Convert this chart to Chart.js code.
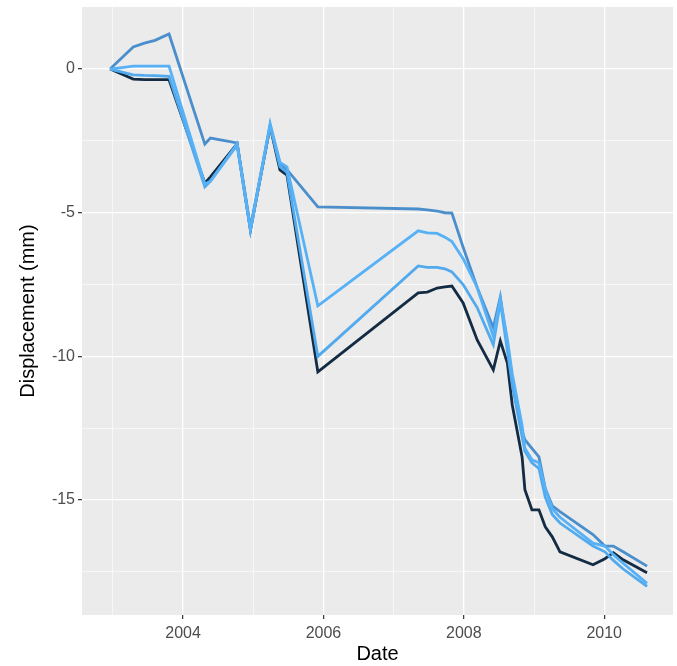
<!DOCTYPE html>
<html>
<head>
<meta charset="utf-8">
<script src="https://cdn.jsdelivr.net/npm/chart.js@4.4.1/dist/chart.umd.min.js"></script>
<style>
  html, body { margin: 0; padding: 0; background: #ffffff; }
  #wrap { width: 677px; height: 666px; }
</style>
</head>
<body>
<div id="wrap"><canvas id="grafico" width="677" height="666"></canvas></div>
<script>
// acquisition dates (decimal years), shared by all series
const datas = [2002.96, 2003.29, 2003.45, 2003.6, 2003.8, 2004.31, 2004.39, 2004.77, 2004.96, 2005.24,
  2005.38, 2005.48, 2005.92, 2007.35, 2007.48, 2007.62, 2007.73, 2007.83, 2007.99, 2008.19,
  2008.42, 2008.52, 2008.62, 2008.69, 2008.83, 2008.87, 2008.97, 2009.07, 2009.16, 2009.26,
  2009.37, 2009.84, 2010.01, 2010.13, 2010.27, 2010.61];

// displacement (mm)
const serieEscura = [0, -0.35, -0.37, -0.37, -0.37, -3.97, -3.75, -2.6, -5.6, -2.0,
  -3.51, -3.69, -10.54, -7.79, -7.76, -7.62, -7.58, -7.55, -8.14, -9.43,
  -10.47, -9.46, -10.23, -11.69, -13.5, -14.64, -15.34, -15.34, -15.93, -16.28,
  -16.8, -17.25, -17.04, -16.83, -17.08, -17.53];
const serieMedia = [0, 0.77, 0.9, 1.0, 1.22, -2.61, -2.4, -2.57, -5.5, -2.0,
  -3.27, -3.5, -4.8, -4.87, -4.9, -4.94, -5.0, -5.01, -6.2, -7.6,
  -9.0, -7.93, -9.6, -10.8, -12.6, -12.9, -13.2, -13.5, -14.6, -15.2,
  -15.4, -16.2, -16.6, -16.6, -16.8, -17.3];
const serieClara1 = [0, 0.1, 0.1, 0.1, 0.1, -4.0, -3.9, -2.6, -5.6, -1.9,
  -3.25, -3.4, -8.24, -5.63, -5.7, -5.72, -5.85, -6.0, -6.6, -7.6,
  -9.3, -8.0, -9.4, -10.6, -12.4, -13.2, -13.6, -13.7, -14.6, -15.3,
  -15.6, -16.5, -16.6, -16.9, -17.2, -17.9];
const serieClara2 = [0, -0.2, -0.22, -0.23, -0.25, -4.1, -3.9, -2.65, -5.6, -1.95,
  -3.4, -3.6, -10.0, -6.85, -6.9, -6.9, -6.95, -7.06, -7.5, -8.3,
  -9.6, -8.1, -9.8, -11.0, -12.8, -13.3, -13.7, -13.9, -14.9, -15.5,
  -15.8, -16.6, -16.8, -17.1, -17.4, -18.0];

const anosX = [2004, 2006, 2008, 2010];
const valoresY = [0, -5, -10, -15];

const pontos = serie => datas.map((d, i) => ({ x: d, y: serie[i] }));

const fundoPainel = {
  id: 'fundoPainel',
  beforeDraw(chart) {
    const { ctx, chartArea: a } = chart;
    ctx.save();
    ctx.fillStyle = '#EBEBEB';
    ctx.fillRect(a.left, a.top, a.right - a.left, a.bottom - a.top);
    ctx.restore();
  }
};

const fonte = "'Liberation Sans', Arial, sans-serif";

new Chart(document.getElementById('grafico').getContext('2d'), {
  type: 'line',
  data: {
    datasets: [
      { data: pontos(serieEscura), borderColor: '#132B43', order: 4 },
      { data: pontos(serieMedia), borderColor: '#4A8FCC', order: 3 },
      { data: pontos(serieClara2), borderColor: '#52AAEE', order: 2 },
      { data: pontos(serieClara1), borderColor: '#56B1F7', order: 1 }
    ]
  },
  options: {
    responsive: false,
    animation: false,
    layout: { autoPadding: false, padding: { top: 7, right: 4, left: 0, bottom: 0 } },
    datasets: { line: { borderWidth: 2.8, pointRadius: 0, tension: 0, fill: false } },
    plugins: { legend: { display: false }, tooltip: { enabled: false } },
    scales: {
      x: {
        type: 'linear',
        min: 2002.56,
        max: 2010.98,
        afterFit: s => { s.height = 51; s.paddingLeft = 0; s.paddingRight = 0; },
        border: { display: false },
        grid: {
          color: '#FFFFFF',
          lineWidth: c => anosX.includes(c.tick.value) ? 1.3 : 0.6,
          tickColor: c => anosX.includes(c.tick.value) ? '#333333' : 'rgba(0,0,0,0)',
          tickLength: 4,
          tickWidth: 1.2
        },
        ticks: {
          stepSize: 1,
          includeBounds: false,
          autoSkip: false,
          maxRotation: 0,
          padding: 5,
          color: '#4D4D4D',
          font: { family: fonte, size: 16 },
          callback: v => anosX.includes(v) ? String(v) : ''
        },
        title: {
          display: true,
          text: 'Date',
          color: '#000000',
          font: { family: fonte, size: 20 },
          padding: { top: 0, bottom: 0 }
        }
      },
      y: {
        min: -19.0,
        max: 2.16,
        afterFit: s => { s.width = 82; s.paddingTop = 0; s.paddingBottom = 0; },
        border: { display: false },
        grid: {
          color: '#FFFFFF',
          lineWidth: c => valoresY.includes(c.tick.value) ? 1.3 : 0.6,
          tickColor: c => valoresY.includes(c.tick.value) ? '#333333' : 'rgba(0,0,0,0)',
          tickLength: 4,
          tickWidth: 1.2
        },
        ticks: {
          stepSize: 2.5,
          includeBounds: false,
          autoSkip: false,
          padding: 3,
          color: '#4D4D4D',
          font: { family: fonte, size: 16 },
          callback: v => valoresY.includes(v) ? String(v) : ''
        },
        title: {
          display: true,
          text: 'Displacement (mm)',
          color: '#000000',
          font: { family: fonte, size: 20 },
          padding: { top: 16, bottom: 0 }
        }
      }
    }
  },
  plugins: [fundoPainel]
});
</script>
</body>
</html>
